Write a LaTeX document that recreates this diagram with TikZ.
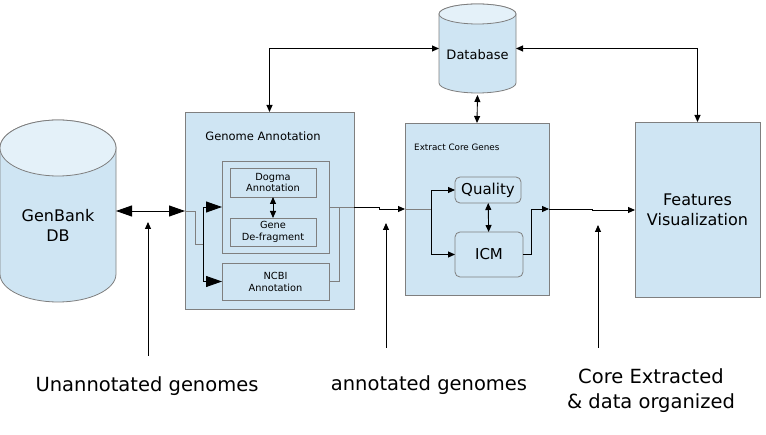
\documentclass[tikz,border=0pt]{standalone}
\usepackage{fontspec}
\setmainfont{DejaVu Sans}
\usepackage{xcolor}
\usetikzlibrary{arrows.meta,positioning,calc}
\definecolor{boxblue}{HTML}{CFE5F3}
\definecolor{lidblue}{HTML}{E4F1F9}
\definecolor{edgegray}{HTML}{7F7F7F}
\tikzset{%
	panel/.style    = {draw=edgegray, line width=0.8pt, fill=boxblue, rectangle, inner sep=0pt, outer sep=0pt, align=center},
	subpanel/.style = {draw=edgegray, line width=0.8pt, rectangle, inner sep=0pt, outer sep=0pt, align=center},
	roundpanel/.style = {subpanel, rounded corners=5pt},
	drumbody/.style = {rectangle, inner sep=0pt, outer sep=0pt}, % Cylinder body
	caption/.style  = {inner sep=0pt, align=center}, % Text only
	arrow/.style    = {black, line width=0.9pt, -{Triangle[length=7pt,width=6pt]}},
	arrowboth/.style = {black, line width=0.9pt, {Triangle[length=7pt,width=6pt]}-{Triangle[length=7pt,width=6pt]}},
	bigarrow/.style = {black, line width=0.9pt, -{Triangle[length=16pt,width=11pt]}},
	bigboth/.style  = {black, line width=0.9pt, {Triangle[length=16pt,width=11pt]}-{Triangle[length=16pt,width=11pt]}},
	grayline/.style = {edgegray, line width=0.9pt},
}
% cylinder drawn round a body node: name, x radius, y radius
\newcommand{\drumshape}[3]{%
	\filldraw[draw=edgegray, fill=boxblue, line width=0.8pt] (#1.north west) -- (#1.south west)
		arc[start angle=180, end angle=360, x radius=#2pt, y radius=#3pt] -- (#1.north east)
		arc[start angle=0, end angle=180, x radius=#2pt, y radius=#3pt] -- cycle;
	\filldraw[draw=edgegray, fill=lidblue, line width=0.8pt] (#1.north) ellipse[x radius=#2pt, y radius=#3pt];
}
\newcommand{\fs}[2]{\fontsize{#1}{#2}\selectfont}

\begin{document}
\begin{tikzpicture}[x=1pt, y=-1pt]
	\useasboundingbox (0,0) rectangle (766,435);
	% storage
	\node[drumbody, minimum width=116pt, minimum height=126pt] (genbank) at (58,211) {};
	\drumshape{genbank}{58}{28}
	\node[caption, font=\fs{16}{20}] (genbanklbl) at (58,225) {GenBank\\DB};
	\node[drumbody, minimum width=77pt, minimum height=69pt] (dbase) at (477.5,48.5) {};
	\drumshape{dbase}{38.5}{10}
	\node[caption, font=\fs{13}{16}] (dbaselbl) at (477.5,55) {Database};
	% annotation stage
	\node[panel, minimum width=169pt, minimum height=197pt] (ganno) at (269.5,210.5) {};
	\node[caption, font=\fs{11.5}{14}] (gatitle) at (263,136) {Genome Annotation};
	\node[subpanel, minimum width=107pt, minimum height=92pt] (dgroup) at (275.5,207) {};
	\node[subpanel, minimum width=86pt, minimum height=29pt, font=\fs{9.8}{12}] (dogma) at (273,182.5) {Dogma\\Annotation};
	\node[subpanel, minimum width=86pt, minimum height=28pt, font=\fs{9.8}{12}] (gene) at (273,232) {Gene\\De-fragment};
	\node[subpanel, minimum width=107pt, minimum height=37pt, font=\fs{9.8}{12}] (ncbi) at (275.5,281.5) {NCBI\\Annotation};
	% core extraction stage
	\node[panel, minimum width=144pt, minimum height=172pt] (extract) at (477,209) {};
	\node[caption, font=\fs{8.8}{11}, anchor=west] (extitle) at (414,147) {Extract Core Genes};
	\node[roundpanel, minimum width=66pt, minimum height=26pt, font=\fs{15}{18}] (quality) at (488,190) {Quality};
	\node[roundpanel, minimum width=68pt, minimum height=45pt, font=\fs{15}{18}] (icm) at (489,254.5) {ICM};
	% output
	\node[panel, minimum width=125pt, minimum height=175pt, font=\fs{16}{20}] (features) at (697.5,209.5) {Features\\Visualization};
	% captions
	\node[caption, font=\fs{19.5}{25}] (lblA) at (147,386) {Unannotated genomes};
	\node[caption, font=\fs{19.5}{25}] (lblB) at (429,385) {annotated genomes};
	\node[caption, font=\fs{19.5}{25}] (lblC) at (651,391) {Core Extracted\\\& data organized};
	\coordinate (splitA) at (203,244);
	\coordinate (splitB) at (431,209);
	\coordinate (tipA) at (148,222);
	\coordinate (footA) at (148,356);
	\coordinate (tipB) at (386,223);
	\coordinate (footB) at (386,348);
	\coordinate (tipC) at (598,225);
	\coordinate (footC) at (598,348);
	% connectors
	\draw[bigboth] (genbank.east) -- (genbank.east -| ganno.west);
	\draw[grayline] (genbank.east -| ganno.west) -- ++(10,0) |- (splitA);
	\draw[bigarrow] (splitA) |- (dgroup.west);
	\draw[bigarrow] (splitA) |- (ncbi.west);
	\draw[arrowboth] (dogma) -- (gene);
	\draw[grayline] (ncbi.east) -- ++(10,0) |- (dgroup.east);
	\draw[grayline] (dgroup.east) -- (dgroup.east -| ganno.east);
	\draw[arrow] (dgroup.east -| ganno.east) -- ++(25,0) |- (splitB -| extract.west);
	\draw[grayline] (splitB -| extract.west) -- (splitB);
	\draw[arrow] (splitB) |- (quality.west);
	\draw[arrow] (splitB) |- (icm.west);
	\draw[arrowboth] (quality) -- (icm);
	\draw[arrow] (icm.east) -- ++(8,0) |- (splitB -| extract.east);
	\draw[arrow] (splitB -| extract.east) -- ++(43,0) |- ([yshift=-1pt]splitB -| features.west);
	\draw[arrowboth] (ganno.north) |- (dbase.west);
	\draw[arrowboth] (dbase.east) -| (features.north);
	\draw[arrowboth] ([yshift=-12pt]dbase.south) -- (extract.north);
	\draw[arrow] (footA) -- (tipA);
	\draw[arrow] (footB) -- (tipB);
	\draw[arrow] (footC) -- (tipC);
\end{tikzpicture}
\end{document}
